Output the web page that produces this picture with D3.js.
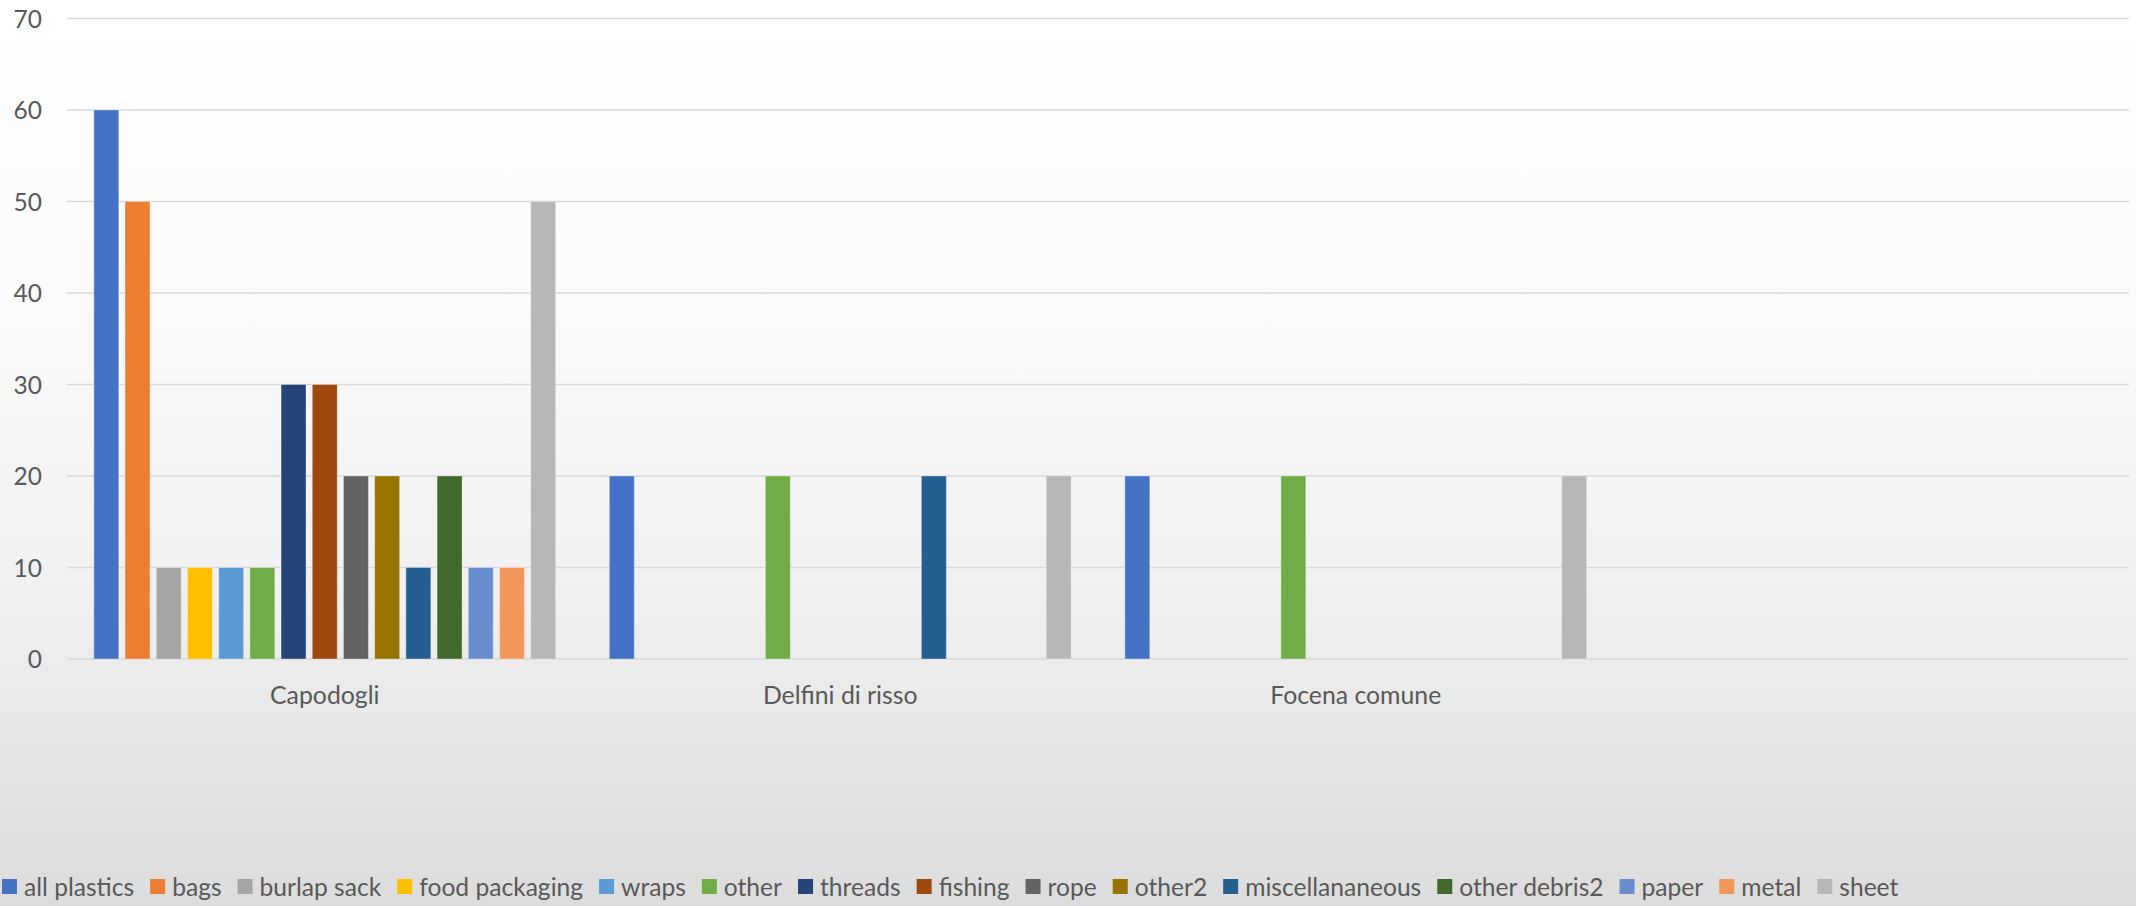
<!DOCTYPE html>
<html>
<head>
<meta charset="utf-8">
<script src="https://cdn.jsdelivr.net/npm/d3@7"></script>
<style>
  html, body { margin: 0; padding: 0; background: #fff; }
  svg { display: block; }
  text { font-family: Lato, "Open Sans", sans-serif; fill: #595959; }
</style>
</head>
<body>
<svg id="chart" width="2136" height="906"></svg>
<script>
// ---- data ----
const categories = ["Capodogli", "Delfini di risso", "Focena comune", ""];
const seriesNames = ["all plastics", "bags", "burlap sack", "food packaging", "wraps", "other",
  "threads", "fishing", "rope", "other2", "miscellananeous", "other debris2", "paper", "metal", "sheet"];
const capodogliValues = [60, 50, 10, 10, 10, 10, 30, 30, 20, 20, 10, 20, 10, 10, 50];
const delfiniValues   = [20, 0, 0, 0, 0, 20, 0, 0, 0, 0, 20, 0, 0, 0, 20];
const focenaValues    = [20, 0, 0, 0, 0, 20, 0, 0, 0, 0, 0, 0, 0, 0, 20];
const emptyValues     = [null, null, null, null, null, null, null, null, null, null, null, null, null, null, null];
const yTicks = [0, 10, 20, 30, 40, 50, 60, 70];
const seriesColors = ["#4472C4", "#ED7D31", "#A5A5A5", "#FFC000", "#5B9BD5", "#70AD47",
  "#264478", "#9E480E", "#636363", "#997300", "#255E91", "#43682B", "#698ED0", "#F1975A", "#B7B7B7"];

const valuesByCategory = [capodogliValues, delfiniValues, focenaValues, emptyValues];

// ---- layout ----
const W = 2136, H = 906;
const plot = { left: 67, right: 2129, top: 18.5, bottom: 659 };

const svg = d3.select("#chart");

// background gradient
const defs = svg.append("defs");
const grad = defs.append("linearGradient").attr("id", "bg").attr("x1", 0).attr("y1", 0).attr("x2", 0).attr("y2", 1);
[[0, "#ffffff"], [0.33, "#fbfbfb"], [0.66, "#f0f0f0"], [0.73, "#ececec"], [1, "#dcdcdc"]]
  .forEach(([o, c]) => grad.append("stop").attr("offset", o).attr("stop-color", c));
svg.append("rect").attr("width", W).attr("height", H).attr("fill", "url(#bg)");

const x0 = d3.scaleBand().domain(categories.map((c, i) => i)).range([plot.left, plot.right]).padding(0);
const x1 = d3.scaleBand().domain(seriesNames).range([0, x0.bandwidth()]).paddingInner(0.2).paddingOuter(0.86);
const y = d3.scaleLinear().domain([0, 70]).range([plot.bottom, plot.top]);

// gridlines
svg.append("g").selectAll("line").data(yTicks).join("line")
  .attr("x1", plot.left).attr("x2", plot.right)
  .attr("y1", d => y(d)).attr("y2", d => y(d))
  .attr("stroke", "#d9d9d9").attr("stroke-width", 1.4);

// y axis labels
const yAxis = d3.axisLeft(y).tickValues(yTicks).tickSize(0).tickPadding(0);
const yg = svg.append("g").attr("transform", "translate(42,0)").call(yAxis);
yg.select(".domain").remove();
yg.selectAll("text").attr("font-size", 24.5).attr("font-family", "Lato").attr("fill", "#595959").attr("dy", "0.35em");

// bars
const groups = svg.append("g").selectAll("g").data(valuesByCategory).join("g")
  .attr("transform", (d, i) => `translate(${x0(i)},0)`);
groups.selectAll("rect")
  .data(vals => vals.map((v, j) => ({ v, name: seriesNames[j], color: seriesColors[j] })).filter(d => d.v))
  .join("rect")
  .attr("x", d => x1(d.name))
  .attr("width", x1.bandwidth())
  .attr("y", d => y(d.v))
  .attr("height", d => y(0) - y(d.v))
  .attr("fill", d => d.color)
  .attr("stroke", "rgba(255,255,255,0.35)")
  .attr("stroke-width", 1);

// category labels
const xAxis = d3.axisBottom(x0).tickFormat(i => categories[i]).tickSize(0).tickPadding(0);
const xg = svg.append("g").attr("transform", `translate(0,${plot.bottom})`).call(xAxis);
xg.select(".domain").remove();
xg.selectAll("text").attr("font-size", 24.8).attr("font-family", "Lato").attr("fill", "#595959")
  .attr("dy", 0).attr("y", 45);

// legend
const legend = svg.append("g");
let lx = 2;
const gap = 16;
seriesNames.forEach((name, j) => {
  const g = legend.append("g").attr("transform", `translate(${lx},0)`);
  g.append("rect").attr("x", 0).attr("y", 879).attr("width", 15).attr("height", 15).attr("fill", seriesColors[j]);
  const t = g.append("text").attr("x", 22).attr("y", 896).attr("font-size", 24.6).text(name);
  lx += 22 + t.node().getComputedTextLength() + gap;
});
</script>
</body>
</html>
